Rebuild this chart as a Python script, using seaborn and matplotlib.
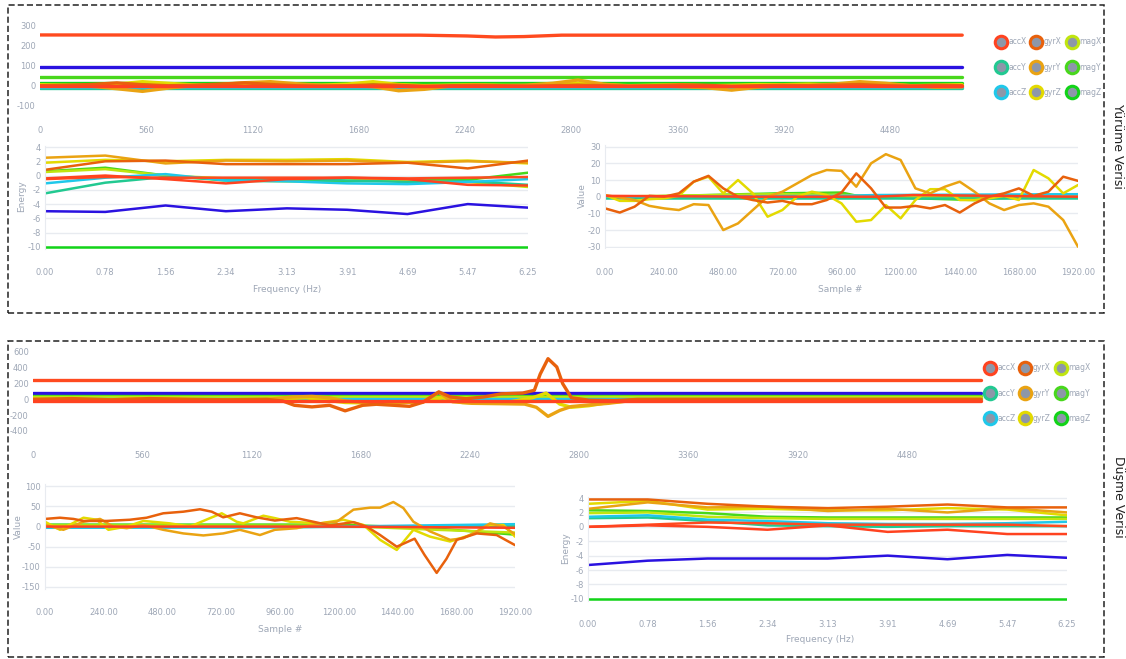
import pandas as pd
import matplotlib
matplotlib.use("Agg")
import matplotlib.pyplot as plt
from matplotlib.lines import Line2D
from matplotlib.patches import Rectangle
import seaborn as sns

sns.set_theme(style="white")
plt.rcParams["font.family"] = ["Liberation Sans Narrow", "DejaVu Sans"]
plt.rcParams["axes.unicode_minus"] = False

W, H = 1126, 659
TICK_GREY = "#9ea7b6"
GRID_GREY = "#e8ebf0"

COLORS = {
    "accX": "#ff4320", "accY": "#22c991", "accZ": "#1fc8ea",
    "gyrX": "#e8610c", "gyrY": "#eaa312", "gyrZ": "#e3da00",
    "magX": "#c0e50f", "magY": "#48d71c", "magZ": "#12d418",
    "magN": "#2a12e0", "accN": "#ff4a1f",
}
LEGEND_KEYS = ["accX", "accY", "accZ", "gyrX", "gyrY", "gyrZ", "magX", "magY", "magZ"]
DRAW_ORDER = ["magN", "magZ", "magY", "magX", "accY", "accZ",
              "gyrZ", "gyrY", "gyrX", "accN", "accX"]

# ---------------- walking data (Yürüme) ----------------
walk_t = list(range(0, 4861, 135))
walk_series = {
    "gyrY": (walk_t, [0, 0, -3, -15, -28, -12, 0, 5, 15, 20, 10, 2, 0, -5, -25, -18, -2, 2, 0,
                      3, 12, 28, 8, -2, 0, -5, -10, -22, -8, 0, 2, 8, 20, 12, 0, -8, -6]),
    "gyrZ": (walk_t, [5, 3, 2, 8, 20, 12, 4, 3, 10, 8, 4, 3, 8, 20, 6, 0, 3, 5, 2,
                      0, 5, 12, 5, 0, 3, 5, 0, 2, 6, 5, 8, 5, 3, 5, 0, 3, 5]),
    "gyrX": (walk_t, [0, 2, 6, 14, 5, 0, 2, 8, 14, 6, 0, -2, 0, 4, 2, -3, 0, 2, 0,
                      -2, 0, 3, 0, -2, 0, 4, 2, -3, 0, 2, 0, 3, 6, 0, -2, 2, 0]),
    "accN": ([0, 2000, 2250, 2400, 2550, 2750, 4860], [251, 250, 246, 241, 243, 250, 250]),
    "magN": ([0, 4860], [93, 93]),
    "magY": ([0, 4860], [42, 42]),
    "magZ": ([0, 4860], [12, 12]),
    "magX": ([0, 4860], [5, 5]),
    "accY": ([0, 4860], [-10, -10]),
    "accZ": ([0, 4860], [-5, -5]),
    "accX": ([0, 4860], [-1, -1]),
}

freqs = [0.00, 0.78, 1.56, 2.34, 3.13, 3.91, 4.69, 5.47, 6.25]
walk_energy = {
    "gyrY": [2.5, 2.8, 1.7, 2.1, 2.0, 2.1, 1.8, 2.0, 1.8],
    "gyrZ": [1.8, 2.2, 2.0, 2.2, 2.2, 2.3, 1.9, 2.1, 1.7],
    "gyrX": [0.8, 2.0, 2.1, 1.6, 1.6, 1.6, 1.8, 1.0, 2.1],
    "magX": [0.5, 0.9, 0.0, -0.4, -0.5, -0.4, -0.8, -0.9, -1.6],
    "magY": [0.6, 1.1, 0.0, -0.7, -0.8, -0.8, -0.7, -0.6, 0.4],
    "accN": [-0.5, -0.2, -0.3, -0.3, -0.3, -0.3, -0.4, -0.3, -0.2],
    "accX": [-0.4, 0.0, -0.5, -1.1, -0.5, -0.3, -0.5, -1.3, -1.4],
    "accZ": [-1.1, -0.3, 0.2, -0.7, -0.8, -1.1, -1.2, -0.9, -0.5],
    "accY": [-2.5, -1.0, -0.2, -0.5, -0.4, -0.7, -0.9, -0.8, -1.3],
    "magN": [-5.0, -5.1, -4.2, -5.0, -4.6, -4.8, -5.4, -4.0, -4.5],
    "magZ": [-10, -10, -10, -10, -10, -10, -10, -10, -10],
}

walk_s = list(range(0, 1921, 60))
walk_window = {
    "gyrY": (walk_s, [1, -0.5, -2, -5.5, -7, -8, -4.5, -5, -20, -16, -8, 0, 3, 8, 13, 16, 15.5,
                      6, 20, 25.5, 22, 5, 2, 6, 9, 3, -4, -8, -5, -4, -6, -14, -30]),
    "gyrX": (walk_s, [-7, -9.5, -6, 0.5, 0, 2, 9, 12.5, 5, 0, -2, -3.5, -2.5, -4.5, -4.5, -2, 2.5,
                      14, 5, -6.5, -6.5, -5.5, -7, -5, -9.5, -4, 0, 2, 5, 0.5, 3, 12, 9.5]),
    "gyrZ": (walk_s, [1, -2.5, -2.5, -1.5, -1, 0.5, 9, 12, 2, 10, 2, -12, -8, 0, 3, 1, -4,
                      -15, -14, -5, -13, -2, 4.5, 4.5, -2, -2, -1, 0.5, -2, 16, 11, 2, 7]),
    "accX": ([0, 600, 1100, 1250, 1920], [0.5, 0, 0, 1, 0]),
    "accZ": ([0, 960, 1100, 1920], [0, 0.5, 1, 1.5]),
    "accY": ([0, 1920], [-0.5, -0.5]),
    "magX": ([0, 700, 960, 1500, 1920], [0, 1.5, 1, -1, 0]),
    "magY": ([0, 700, 960, 1040, 1500, 1560, 1920], [-0.5, 2, 2.5, 0, -2, -1, 0]),
    "magZ": ([0, 1920], [0, 0]),
}

# ---------------- fall data (Düşme) ----------------
fall_series = {
    "gyrX": ([0, 200, 400, 600, 800, 1000, 1200, 1280, 1340, 1430, 1520, 1600, 1690, 1760, 1850,
              1930, 2000, 2080, 2140, 2220, 2310, 2400, 2510, 2570, 2600, 2640, 2685, 2715, 2760,
              2850, 2980, 3100, 4860],
             [0, 10, -5, 10, 0, -5, 0, -20, -75, -95, -75, -145, -75, -62, -75,
              -88, -35, 95, 30, 8, 30, 70, 80, 115, 320, 515, 410, 200, 20,
              -10, -15, 0, 0]),
    "gyrY": ([0, 300, 600, 900, 1200, 1330, 1430, 1520, 1600, 1700, 1800, 1900, 2000, 2080, 2150,
              2250, 2400, 2520, 2580, 2640, 2700, 2760, 2850, 2950, 3050, 3200, 4860],
             [0, -10, 5, -5, 0, 30, 38, 20, -20, -40, -30, -40, -30, 90, -30,
              -50, -55, -60, -100, -215, -140, -90, -70, -50, -20, 0, 0]),
    "gyrZ": ([0, 300, 600, 900, 1200, 1400, 1600, 1800, 2000, 2100, 2200, 2400, 2560, 2630, 2700,
              2760, 2850, 2950, 3100, 4860],
             [5, -10, 10, -5, 0, 20, -40, -50, -30, 20, -40, -50, 20, 80, -60,
              -100, -80, -40, -10, 0]),
    "accN": ([0, 4860], [242, 242]),
    "magN": ([0, 4860], [82, 82]),
    "magY": ([0, 4860], [42, 42]),
    "magX": ([0, 4860], [28, 28]),
    "magZ": ([0, 4860], [15, 15]),
    "accY": ([0, 4860], [-5, -5]),
    "accZ": ([0, 4860], [2, 2]),
    "accX": ([0, 4860], [-20, -20]),
}

fall_energy = {
    "gyrX": [3.8, 3.8, 3.2, 2.8, 2.6, 2.8, 3.1, 2.7, 2.7],
    "gyrY": [2.5, 3.4, 2.7, 2.8, 2.2, 2.5, 2.0, 2.6, 2.0],
    "gyrZ": [3.2, 3.6, 2.4, 2.5, 2.3, 2.3, 2.6, 2.4, 1.6],
    "magY": [2.3, 2.2, 1.9, 1.4, 1.3, 1.3, 1.3, 1.3, 1.3],
    "magX": [1.9, 2.0, 1.4, 1.2, 1.1, 1.1, 1.1, 1.1, 1.1],
    "accZ": [1.4, 1.6, 1.0, 0.8, 0.5, 0.4, 0.4, 0.5, 0.7],
    "accY": [1.2, 1.3, 0.8, 0.2, 0.1, 0.0, 0.1, 0.1, 0.1],
    "accN": [0.0, 0.3, 0.6, 0.5, 0.3, 0.3, 0.3, 0.3, 0.1],
    "accX": [0.0, 0.2, 0.0, -0.4, 0.2, -0.7, -0.4, -1.0, -1.0],
    "magN": [-5.3, -4.7, -4.4, -4.4, -4.4, -4.0, -4.5, -3.9, -4.3],
    "magZ": [-10, -10, -10, -10, -10, -10, -10, -10, -10],
}

fall_window = {
    "gyrX": ([0, 61, 116, 157, 252, 347, 415, 483, 565, 633, 681, 728, 796, 864, 939, 1028, 1096,
              1164, 1260, 1314, 1369, 1437, 1510, 1550, 1600, 1640, 1682, 1764, 1845, 1920],
             [19, 22, 19, 14, 14, 17, 22, 33, 37, 43, 37, 23, 33, 23, 15, 21, 12,
              3, 11, 0, -21, -50, -30, -70, -115, -80, -33, -17, -21, -46]),
    "gyrY": ([0, 75, 157, 225, 279, 334, 402, 483, 565, 647, 728, 796, 878, 939, 1028, 1123, 1192,
              1260, 1328, 1369, 1423, 1464, 1505, 1573, 1655, 1709, 1764, 1818, 1873, 1920],
             [4, -8, 12, 19, 0, -4, 4, -8, -17, -22, -17, -8, -21, -8, -4, 8, 12,
              42, 47, 47, 61, 46, 12, -12, -33, -29, -12, 8, 0, -19]),
    "gyrZ": ([0, 61, 157, 211, 259, 334, 402, 510, 592, 674, 722, 783, 810, 892, 939, 1001, 1123,
              1219, 1301, 1369, 1437, 1505, 1573, 1655, 1737, 1818, 1873, 1920],
             [12, -8, 22, 17, -8, 0, 14, 8, 0, 21, 33, 12, 8, 27, 21, 12, 8,
              17, 4, -33, -58, -8, -25, -37, -21, 4, 4, -25]),
    "accZ": ([0, 960, 1440, 1920], [-3, -2, 2, 6]),
    "accY": ([0, 1920], [-2, 0]),
    "magX": ([0, 1200, 1600, 1920], [3, 2, -8, -15]),
    "magY": ([0, 1200, 1600, 1920], [5, 5, -5, -20]),
    "magZ": ([0, 1920], [2, 2]),
    "accX": ([0, 1200, 1920], [0, 0, -3]),
}


def to_long(series):
    frames = []
    for name, (xs, ys) in series.items():
        frames.append(pd.DataFrame({"x": xs, "y": ys, "ch": name}))
    return pd.concat(frames, ignore_index=True)


def energy_long(table):
    return to_long({k: (freqs, v) for k, v in table.items()})


def rect(x0, y0, x1, y1):
    return [x0 / W, 1 - y1 / H, (x1 - x0) / W, (y1 - y0) / H]


def draw(ax, df, lw):
    order = [k for k in DRAW_ORDER if k in set(df["ch"])]
    sns.lineplot(data=df, x="x", y="y", hue="ch", hue_order=order, palette=COLORS,
                 estimator=None, sort=False, legend=False, linewidth=lw, ax=ax)
    ax.set_xlabel("")
    ax.set_ylabel("")
    for s in ax.spines.values():
        s.set_visible(False)
    ax.tick_params(axis="both", length=0, colors=TICK_GREY, labelsize=6)


def style_small(ax):
    ax.grid(axis="y", color=GRID_GREY, linewidth=1.0)
    ax.grid(axis="x", visible=False)
    ax.spines["left"].set_visible(True)
    ax.spines["left"].set_color(GRID_GREY)
    ax.spines["left"].set_linewidth(0.8)
    ax.set_axisbelow(True)


fig = plt.figure(figsize=(W / 100, H / 100), dpi=100)
fig.patch.set_facecolor("white")

# ---- long recordings ----
ax1 = fig.add_axes(rect(40, 21, 985, 112))
draw(ax1, to_long(walk_series), 2.4)
ax1.set_xlim(0, 4980)
ax1.set_ylim(-130, 320)
ax1.set_xticks([0, 560, 1120, 1680, 2240, 2800, 3360, 3920, 4480])
ax1.set_yticks([300, 200, 100, 0, -100])
ax1.tick_params(axis="x", pad=10)
ax1.tick_params(axis="y", pad=3)

ax4 = fig.add_axes(rect(33, 348, 985, 437))
draw(ax4, to_long(fall_series), 2.4)
ax4.set_xlim(0, 4880)
ax4.set_ylim(-476, 650)
ax4.set_xticks([0, 560, 1120, 1680, 2240, 2800, 3360, 3920, 4480])
ax4.set_yticks([600, 400, 200, 0, -200, -400])
ax4.tick_params(axis="x", pad=10)
ax4.tick_params(axis="y", pad=3)


# ---- energy spectra ----
def energy_axes(box, table, xlab_xy, ylab_xy):
    ax = fig.add_axes(rect(*box))
    draw(ax, energy_long(table), 1.8)
    style_small(ax)
    ax.set_xlim(0, 6.25)
    ax.set_ylim(-10.3, 4.2)
    ax.set_xticks(freqs)
    ax.set_xticklabels([f"{f:.2f}" for f in freqs])
    ax.set_yticks([4, 2, 0, -2, -4, -6, -8, -10])
    ax.tick_params(axis="x", pad=14)
    ax.tick_params(axis="y", pad=3)
    ax.set_xlabel("Frequency (Hz)", color=TICK_GREY, fontsize=6.5)
    ax.set_ylabel("Energy", color=TICK_GREY, fontsize=6.5)
    ax.xaxis.set_label_coords(*xlab_xy, transform=fig.transFigure)
    ax.yaxis.set_label_coords(*ylab_xy, transform=fig.transFigure)
    ax.xaxis.label.set_va("center")
    ax.yaxis.label.set_va("center")
    return ax


def window_axes(box, series, ylim, yticks, xlab_xy, ylab_xy):
    ax = fig.add_axes(rect(*box))
    draw(ax, to_long(series), 1.8)
    style_small(ax)
    ax.set_xlim(0, 1920)
    ax.set_ylim(*ylim)
    xt = list(range(0, 1921, 240))
    ax.set_xticks(xt)
    ax.set_xticklabels([f"{v:.2f}" for v in xt])
    ax.set_yticks(yticks)
    ax.tick_params(axis="x", pad=14)
    ax.tick_params(axis="y", pad=3)
    ax.set_xlabel("Sample #", color=TICK_GREY, fontsize=6.5)
    ax.set_ylabel("Value", color=TICK_GREY, fontsize=6.5)
    ax.xaxis.set_label_coords(*xlab_xy, transform=fig.transFigure)
    ax.yaxis.set_label_coords(*ylab_xy, transform=fig.transFigure)
    ax.xaxis.label.set_va("center")
    ax.yaxis.label.set_va("center")
    return ax


energy_axes((45, 145.6, 528, 249), walk_energy,
            (287 / W, 1 - 290 / H), (22 / W, 1 - 196 / H))
window_axes((605, 145, 1078, 248.4), walk_window, (-31, 31),
            [30, 20, 10, 0, -10, -20, -30],
            (840 / W, 1 - 290 / H), (582 / W, 1 - 196 / H))
window_axes((45, 484.3, 515, 589), fall_window, (-155, 105),
            [100, 50, 0, -50, -100, -150],
            (280 / W, 1 - 630 / H), (18 / W, 1 - 527 / H))
energy_axes((588, 496.6, 1067, 601), fall_energy,
            (820 / W, 1 - 640 / H), (566 / W, 1 - 548 / H))

# ---- legends ----
handles = [Line2D([], [], linestyle="", marker="o", markersize=9,
                  markerfacecolor="#8d97a9", markeredgecolor=COLORS[k],
                  markeredgewidth=2.2) for k in LEGEND_KEYS]
for cx, cy in [(1050, 67), (1039, 393)]:
    fig.legend(handles, LEGEND_KEYS, ncol=3, loc="center",
               bbox_to_anchor=(cx / W, 1 - cy / H), frameon=False,
               fontsize=5.5, labelcolor=TICK_GREY, handlelength=0.6,
               handletextpad=0.7, columnspacing=1.0, labelspacing=2.1,
               borderpad=0.2)

# ---- dashed frames and side titles ----
for (x0, y0, x1, y1) in [(8, 5, 1104, 313), (8, 341, 1104, 657)]:
    fig.patches.append(Rectangle((x0 / W, 1 - y1 / H), (x1 - x0) / W, (y1 - y0) / H,
                                 transform=fig.transFigure, fill=False,
                                 linestyle=(0, (4, 2)), linewidth=1.1,
                                 edgecolor="#222222"))

fig.text(1118 / W, 1 - 146 / H, "Yürüme Verisi", rotation=270, ha="center",
         va="center", fontsize=9, family="DejaVu Sans", color="#222222")
fig.text(1118 / W, 1 - 497 / H, "Düşme Verisi", rotation=270, ha="center",
         va="center", fontsize=9, family="DejaVu Sans", color="#222222")

fig.savefig("out.png", dpi=100, facecolor="white")
